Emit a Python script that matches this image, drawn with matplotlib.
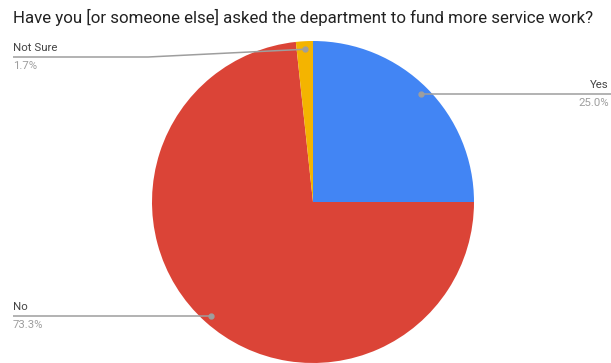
import numpy as np
import matplotlib.pyplot as plt

# data
labels = ['Yes', 'No', 'Not Sure']
shares = [25.0, 73.3, 1.7]
colors = ['#4285F4', '#DB4437', '#F4B400']

W, H = 611, 363
plt.rcParams['font.family'] = ['Roboto', 'DejaVu Sans']

fig = plt.figure(figsize=(W / 100, H / 100), dpi=100)
ax = fig.add_axes([0, 0, 1, 1])

cx, cy, r = 313, H - 202, 161
wedges, _ = ax.pie(shares, colors=colors, startangle=90, counterclock=False,
                   center=(cx, cy), radius=r, frame=True,
                   wedgeprops=dict(linewidth=0))
ax.set_xlim(0, W)
ax.set_ylim(0, H)
ax.set_aspect('equal')
ax.axis('off')

fig.text(13 / W, 1 - 17 / H,
         'Have you [or someone else] asked the department to fund more service work?',
         fontsize=12.2, color='#222222', va='center', ha='left')

line_c = '#9E9E9E'
# leader line routes: (elbow points after the dot), text anchor side
routes = {
    'Yes': ([(W, None)], 'right'),
    'No': ([(13, None)], 'left'),
    'Not Sure': ([(148, H - 57), (13, H - 57)], 'left'),
}

for w, lab, val in zip(wedges, labels, shares):
    ang = np.deg2rad((w.theta1 + w.theta2) / 2)
    dx, dy = cx + 0.95 * r * np.cos(ang), cy + 0.95 * r * np.sin(ang)
    pts, side = routes[lab]
    xs, ys = [dx], [dy]
    for px, py in pts:
        xs.append(px)
        ys.append(dy if py is None else py)
    ax.plot(xs, ys, color=line_c, lw=1.1, solid_capstyle='butt')
    ax.plot(dx, dy, 'o', color=line_c, ms=3.5)
    ly = ys[-1]
    tx = xs[-1] if side == 'left' else W - 2
    ax.text(tx, ly + 4, lab, fontsize=8.2, color='#444444', ha=side, va='bottom')
    ax.text(tx, ly - 4, f'{val:.1f}%', fontsize=8.2, color='#9E9E9E', ha=side, va='top')

fig.savefig('out.png', dpi=100)
